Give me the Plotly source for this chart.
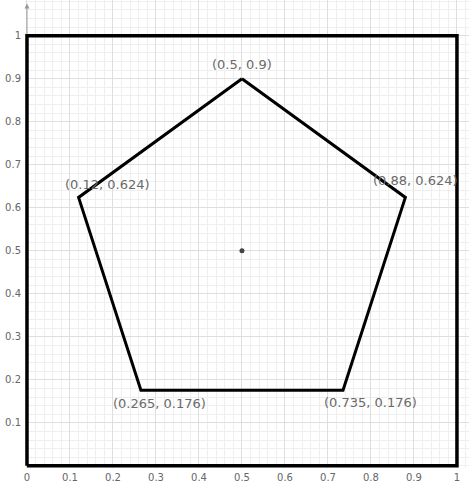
import plotly.graph_objects as go

# Data
vx = [0.5, 0.88, 0.735, 0.265, 0.12]
vy = [0.9, 0.624, 0.176, 0.176, 0.624]
labels = ["(0.5, 0.9)", "(0.88, 0.624)", "(0.735, 0.176)", "(0.265, 0.176)", "(0.12, 0.624)"]
label_dx = [0, 10, 27, 19, 29]
label_dy = [14, 17, -12, -13, 13]
center = [0.5, 0.5]
box_x = [0, 1, 1, 0, 0]
box_y = [0, 0, 1, 1, 0]
xticks = [0, 0.1, 0.2, 0.3, 0.4, 0.5, 0.6, 0.7, 0.8, 0.9, 1]
yticks = [0.1, 0.2, 0.3, 0.4, 0.5, 0.6, 0.7, 0.8, 0.9, 1]

FONT = "DejaVu Sans, Arial"

fig = go.Figure()
fig.add_trace(go.Scatter(x=box_x, y=box_y, mode="lines",
                         line=dict(color="black", width=3.5), hoverinfo="skip"))
fig.add_trace(go.Scatter(x=vx + [vx[0]], y=vy + [vy[0]], mode="lines",
                         line=dict(color="black", width=3), hoverinfo="skip"))
fig.add_trace(go.Scatter(x=[center[0]], y=[center[1]], mode="markers",
                         marker=dict(color="#444", size=5), hoverinfo="skip"))

for x, y, t, dx, dy in zip(vx, vy, labels, label_dx, label_dy):
    fig.add_annotation(x=x, y=y, text=t, showarrow=False, xshift=dx, yshift=dy,
                       font=dict(family=FONT, size=13, color="#6a6a6a"))

# y axis arrow above 1
fig.add_annotation(x=0, y=1.075, ax=0, ay=1.0, xref="x", yref="y", axref="x", ayref="y",
                   showarrow=True, arrowhead=2, arrowsize=1, arrowwidth=1, arrowcolor="#999", text="")

fig.update_layout(
    width=469, height=483,
    margin=dict(l=25, r=0, t=0, b=13),
    plot_bgcolor="white", paper_bgcolor="white",
    showlegend=False,
    font=dict(family=FONT, size=10, color="#666"),
)
fig.update_xaxes(range=[-0.0046, 1.028], tickvals=xticks, ticktext=[str(v) for v in xticks],
                 showgrid=True, gridcolor="#dedede", gridwidth=1,
                 minor=dict(dtick=0.02, showgrid=True, gridcolor="#efefef"),
                 zeroline=False, showline=False, ticks="", ticklabelstandoff=2,
                 tickfont=dict(family=FONT, size=10, color="#666"))
fig.update_yaxes(range=[-0.005, 1.083], tickvals=yticks, ticktext=[str(v) for v in yticks],
                 showgrid=True, gridcolor="#dedede", gridwidth=1,
                 minor=dict(dtick=0.02, showgrid=True, gridcolor="#efefef"),
                 zeroline=False, showline=False, ticks="", ticklabelstandoff=3,
                 tickfont=dict(family=FONT, size=10, color="#666"))

fig.write_html("out.html", config={"displayModeBar": False},
               post_script="document.body.style.margin='0';document.body.style.overflow='hidden';")
